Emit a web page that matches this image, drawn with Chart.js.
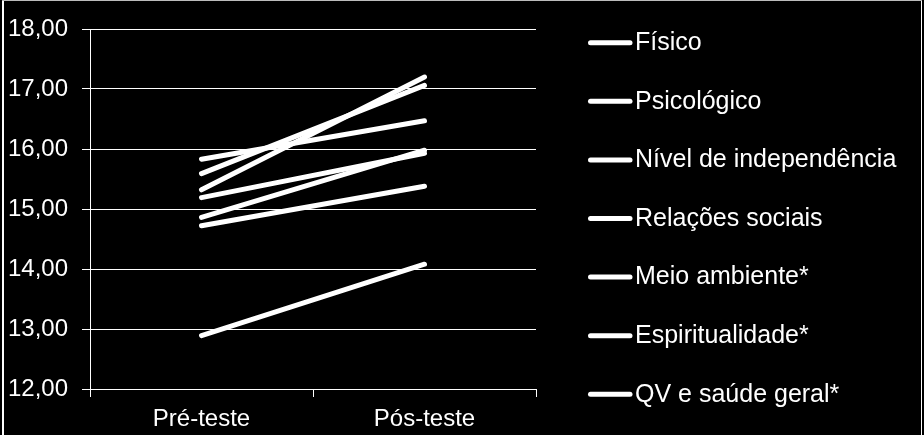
<!DOCTYPE html>
<html>
<head>
<meta charset="utf-8">
<script src="https://cdn.jsdelivr.net/npm/chart.js@4/dist/chart.umd.min.js"></script>
<style>
  html, body { margin: 0; padding: 0; background: #000; }
  canvas { display: block; }
</style>
</head>
<body>
<canvas id="c" width="924" height="435"></canvas>
<script>
// ---- data ----
const categories = ['Pré-teste', 'Pós-teste'];
const seriesNames = ['Físico', 'Psicológico', 'Nível de independência', 'Relações sociais', 'Meio ambiente*', 'Espiritualidade*', 'QV e saúde geral*'];
const fisico = [15.32, 17.20];
const psicologico = [15.59, 17.06];
const nivelIndependencia = [15.83, 16.47];
const relacoesSociais = [15.19, 15.93];
const meioAmbiente = [14.72, 15.38];
const espiritualidade = [14.86, 15.98];
const qvSaudeGeral = [12.89, 14.08];
const seriesValues = [fisico, psicologico, nivelIndependencia, relacoesSociais, meioAmbiente, espiritualidade, qvSaudeGeral];
const yMin = 12, yMax = 18, yStep = 1;

const FONT = '"Liberation Sans", Arial, sans-serif';

const bgPlugin = {
  id: 'bg',
  beforeDraw(chart) {
    const ctx = chart.ctx;
    ctx.save();
    ctx.fillStyle = '#000';
    ctx.fillRect(0, 0, chart.width, chart.height);
    ctx.restore();
  },
  afterDraw(chart) {
    const ctx = chart.ctx;
    ctx.save();
    ctx.strokeStyle = '#fff';
    ctx.lineWidth = 2;
    ctx.beginPath();
    ctx.moveTo(3, 0); ctx.lineTo(3, chart.height);
    ctx.stroke();
    ctx.lineWidth = 1;
    ctx.beginPath();
    ctx.moveTo(921.5, 0); ctx.lineTo(921.5, chart.height);
    ctx.stroke();
    ctx.strokeStyle = '#bbb';
    ctx.beginPath();
    ctx.moveTo(2, 0.5); ctx.lineTo(922, 0.5);
    ctx.stroke();
    ctx.restore();
  }
};

const legendPlugin = {
  id: 'customLegend',
  afterDraw(chart) {
    const ctx = chart.ctx;
    ctx.save();
    ctx.font = '25px ' + FONT;
    ctx.fillStyle = '#fff';
    ctx.strokeStyle = '#fff';
    ctx.textBaseline = 'middle';
    ctx.textAlign = 'left';
    ctx.lineCap = 'round';
    chart.data.datasets.forEach((ds, i) => {
      const y = 42.7 + i * 58.6;
      ctx.lineWidth = ds.borderWidth;
      ctx.beginPath();
      ctx.moveTo(590.5, y);
      ctx.lineTo(630, y);
      ctx.stroke();
      ctx.fillText(ds.label, 635, y + 0.5);
    });
    ctx.restore();
  }
};

const datasets = seriesNames.map((name, i) => ({
  label: name,
  data: seriesValues[i],
  borderColor: '#fff',
  backgroundColor: '#fff',
  borderWidth: 5,
  borderCapStyle: 'round',
  pointRadius: 0,
  pointHoverRadius: 0,
  fill: false,
  tension: 0
}));

new Chart(document.getElementById('c'), {
  type: 'line',
  data: { labels: categories, datasets },
  plugins: [bgPlugin, legendPlugin],
  options: {
    responsive: false,
    animation: false,
    devicePixelRatio: 1,
    layout: { padding: { left: 0, top: 29, right: 388, bottom: 0 } },
    plugins: {
      legend: { display: false },
      tooltip: { enabled: false },
      title: { display: false }
    },
    scales: {
      x: {
        offset: true,
        afterFit(scale) { scale.height = 46; },
        grid: {
          display: true,
          offset: true,
          drawOnChartArea: false,
          drawTicks: true,
          tickLength: 8,
          color: '#fff',
          lineWidth: 1
        },
        border: { display: true, color: '#fff', width: 1 },
        ticks: {
          color: '#fff',
          font: { family: FONT, size: 24 },
          padding: 8,
          maxRotation: 0
        }
      },
      y: {
        min: yMin,
        max: yMax,
        afterFit(scale) { scale.width = 90; },
        grid: {
          display: true,
          drawOnChartArea: true,
          drawTicks: true,
          tickLength: 8,
          color: '#fff',
          lineWidth: 1
        },
        border: { display: true, color: '#fff', width: 1 },
        ticks: {
          stepSize: yStep,
          color: '#fff',
          font: { family: FONT, size: 24 },
          padding: 14,
          callback: (v) => Number(v).toFixed(2).replace('.', ',')
        }
      }
    }
  }
});
</script>
</body>
</html>
